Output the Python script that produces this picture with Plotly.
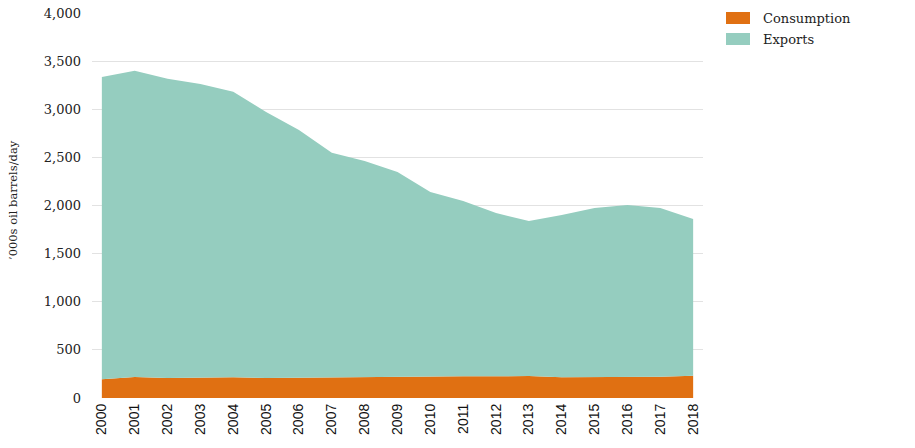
import plotly.graph_objects as go

years = list(range(2000, 2019))
consumption = [194, 218, 208, 215, 215, 208, 211, 215, 215, 218, 228, 225, 225, 228, 215, 218, 215, 221, 232]
total = [3335, 3400, 3318, 3262, 3182, 2972, 2784, 2548, 2462, 2348, 2140, 2047, 1922, 1839, 1901, 1974, 2005, 1974, 1860]
exports = [t - c for t, c in zip(total, consumption)]

series_names = ["Consumption", "Exports"]
series_colors = ["#E07012", "#95CDBF"]
series_values = [consumption, exports]

y_tickvals = [0, 500, 1000, 1500, 2000, 2500, 3000, 3500, 4000]
y_ticktext = ["0", "500", "1,000", "1,500", "2,000", "2,500", "3,000", "3,500", "4,000"]
y_title = "’000s oil barrels/day"

fig = go.Figure()
for name, color, vals in zip(series_names, series_colors, series_values):
    fig.add_trace(go.Scatter(
        x=years, y=vals, name=name, mode="lines", stackgroup="one",
        line=dict(width=0, color=color), fillcolor=color, showlegend=False,
        hoverinfo="x+y+name",
    ))

serif = "DejaVu Serif"

# manual legend (swatch + label)
for i, (name, color) in enumerate(zip(series_names, series_colors)):
    y0 = 12 + i * 21
    fig.add_shape(type="rect", xref="paper", yref="paper",
                  x0=(726 - 92) / 611, x1=(750 - 92) / 611,
                  y0=1 - (y0 + 12 - 13) / 385, y1=1 - (y0 - 13) / 385,
                  fillcolor=color, line=dict(width=0))
    fig.add_annotation(xref="paper", yref="paper",
                       x=(761 - 92) / 611, y=1 - (y0 + 6 - 13) / 385,
                       text=name, showarrow=False, xanchor="left", yanchor="middle",
                       font=dict(family=serif, size=13, color="#222"))

# y-axis title
fig.add_annotation(xref="paper", yref="paper",
                   x=(13 - 92) / 611, y=1 - (200 - 13) / 385,
                   text=y_title, textangle=-90, showarrow=False,
                   xanchor="center", yanchor="middle",
                   font=dict(family=serif, size=11.5, color="#222"))

fig.update_layout(
    width=915, height=448,
    margin=dict(l=92, r=212, t=13, b=50),
    paper_bgcolor="white", plot_bgcolor="white",
    showlegend=False,
    xaxis=dict(
        range=[1999.7, 2018.3], tickmode="array", tickvals=years,
        ticktext=[str(y) for y in years], tickangle=-90,
        showgrid=False, zeroline=False, showline=False,
        tickfont=dict(family="Liberation Sans, Arial", size=14, color="#111"),
        ticks="", ticklabelstandoff=2, automargin=False,
    ),
    yaxis=dict(
        range=[0, 4000], tickmode="array", tickvals=y_tickvals, ticktext=y_ticktext,
        showgrid=True, gridcolor="#e2e2e2", gridwidth=1,
        zeroline=False, showline=False,
        tickfont=dict(family=serif, size=13, color="#222"),
        ticklabelstandoff=10, automargin=False,
    ),
)

fig.write_html("out.html", config={"displayModeBar": False},
               post_script="document.body.style.margin='0';")
